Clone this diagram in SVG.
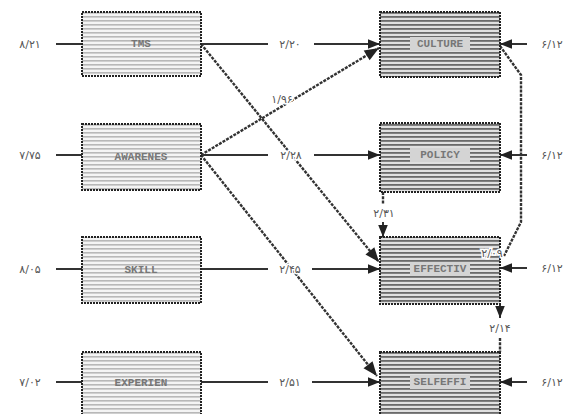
<svg xmlns="http://www.w3.org/2000/svg" width="577" height="414" viewBox="0 0 577 414">
<defs>
<pattern id="hatchL" width="4" height="4" patternUnits="userSpaceOnUse">
<rect width="4" height="4" fill="#f4f4f4"/>
<rect y="0" width="4" height="1.6" fill="#b8b8b8"/>
</pattern>
<pattern id="hatchR" width="4" height="4" patternUnits="userSpaceOnUse">
<rect width="4" height="4" fill="#e0e0e0"/>
<rect y="0" width="4" height="1.8" fill="#6a6a6a"/>
</pattern>
<marker id="arr" viewBox="0 0 10 10" refX="10" refY="5" markerWidth="7" markerHeight="6" orient="auto-start-reverse">
<path d="M0,1 L10,5 L0,9 z" fill="#222"/>
</marker>
<style>
.boxL{fill:url(#hatchL);stroke:#222;stroke-width:2;stroke-dasharray:2 1}
.boxR{fill:url(#hatchR);stroke:#222;stroke-width:2;stroke-dasharray:2 1}
.band{fill:#d4d4d4}
.name{font-family:"Liberation Mono",monospace;font-size:11px;fill:#777;text-anchor:middle;dominant-baseline:central;font-weight:bold}
.num{font-family:"DejaVu Sans","Noto Sans",sans-serif;font-size:11px;fill:#555;text-anchor:middle;dominant-baseline:central;stroke:#fff;stroke-width:3;paint-order:stroke}
.ln{stroke:#333;stroke-width:2;fill:none}
.dl{stroke:#333;stroke-width:2.4;fill:none;stroke-dasharray:3 1.2}
</style>
</defs>

<g id="connectors">
<line class="ln" x1="56" y1="44" x2="82" y2="44"/>
<line class="ln" x1="56" y1="155" x2="82" y2="155"/>
<line class="ln" x1="56" y1="269" x2="82" y2="269"/>
<line class="ln" x1="56" y1="382" x2="82" y2="382"/>
<line class="ln" x1="201" y1="44" x2="268" y2="44"/>
<line class="ln" x1="314" y1="44" x2="380" y2="44" marker-end="url(#arr)"/>
<line class="dl" x1="201" y1="44" x2="379" y2="262" marker-end="url(#arr)"/>
<line class="dl" x1="201" y1="155" x2="379" y2="48" marker-end="url(#arr)"/>
<line class="ln" x1="201" y1="155" x2="268" y2="155"/>
<line class="ln" x1="314" y1="155" x2="380" y2="155" marker-end="url(#arr)"/>
<line class="dl" x1="201" y1="155" x2="377" y2="376" marker-end="url(#arr)"/>
<line class="ln" x1="201" y1="269" x2="268" y2="269"/>
<line class="ln" x1="312" y1="269" x2="380" y2="269" marker-end="url(#arr)"/>
<line class="ln" x1="201" y1="382" x2="268" y2="382"/>
<line class="ln" x1="312" y1="382" x2="380" y2="382" marker-end="url(#arr)"/>
<line class="dl" x1="383" y1="192" x2="383" y2="204"/>
<line class="ln" x1="383" y1="222" x2="383" y2="237" marker-end="url(#arr)"/>
<path class="dl" d="M500,46 L521,75 L521,222 L504,256"/>
<line class="ln" x1="500" y1="304" x2="500" y2="318" marker-end="url(#arr)"/>
<line class="dl" x1="500" y1="338" x2="500" y2="352"/>
<line class="ln" x1="527" y1="44" x2="500" y2="44" marker-end="url(#arr)"/>
<line class="ln" x1="527" y1="155" x2="500" y2="155" marker-end="url(#arr)"/>
<line class="ln" x1="527" y1="268" x2="500" y2="268" marker-end="url(#arr)"/>
<line class="ln" x1="527" y1="382" x2="500" y2="382" marker-end="url(#arr)"/>
</g>

<g id="TMS"><rect class="boxL" x="82" y="12" width="119" height="64"/><text class="name" x="141" y="44">TMS</text></g>
<g id="AWARENES"><rect class="boxL" x="82" y="124" width="119" height="66"/><text class="name" x="141" y="157">AWARENES</text></g>
<g id="SKILL"><rect class="boxL" x="82" y="237" width="119" height="66"/><text class="name" x="141" y="270">SKILL</text></g>
<g id="EXPERIEN"><rect class="boxL" x="82" y="352" width="119" height="70"/><text class="name" x="141" y="383">EXPERIEN</text></g>

<g id="CULTURE"><rect class="boxR" x="380" y="12" width="120" height="65"/><rect class="band" x="410" y="37" width="60" height="14"/><text class="name" x="440" y="44">CULTURE</text></g>
<g id="POLICY"><rect class="boxR" x="380" y="123" width="120" height="69"/><rect class="band" x="410" y="148" width="60" height="14"/><text class="name" x="440" y="155">POLICY</text></g>
<g id="EFFECTIV"><rect class="boxR" x="380" y="237" width="120" height="67"/><rect class="band" x="410" y="262" width="60" height="14"/><text class="name" x="440" y="269">EFFECTIV</text></g>
<g id="SELFEFFI"><rect class="boxR" x="380" y="352" width="120" height="70"/><rect class="band" x="410" y="375" width="60" height="14"/><text class="name" x="440" y="382">SELFEFFI</text></g>

<g id="labels">
<text class="num" x="30" y="44">۸/۲۱</text>
<text class="num" x="30" y="155">۷/۷۵</text>
<text class="num" x="30" y="269">۸/۰۵</text>
<text class="num" x="30" y="382">۷/۰۲</text>
<text class="num" x="290" y="44">۲/۲۰</text>
<text class="num" x="282" y="99">۱/۹۶</text>
<text class="num" x="291" y="155">۲/۲۸</text>
<text class="num" x="290" y="269">۲/۴۵</text>
<text class="num" x="290" y="382">۲/۵۱</text>
<text class="num" x="384" y="213">۲/۳۱</text>
<text class="num" x="492" y="253">۲/۰۹</text>
<text class="num" x="500" y="328">۲/۱۴</text>
<text class="num" x="552" y="44">۶/۱۲</text>
<text class="num" x="552" y="155">۶/۱۲</text>
<text class="num" x="552" y="268">۶/۱۲</text>
<text class="num" x="552" y="382">۶/۱۲</text>
</g>
</svg>
